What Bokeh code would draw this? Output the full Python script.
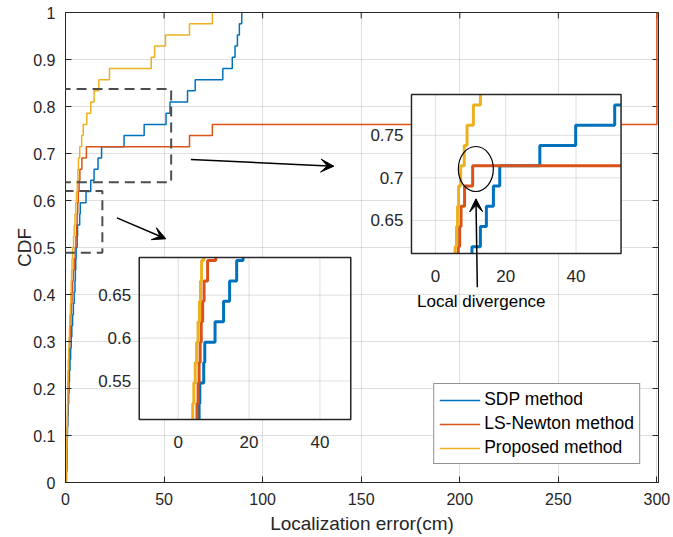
import numpy as np
from bokeh.plotting import figure
from bokeh.models import (Range1d, FixedTicker, BoxAnnotation, Arrow,
                          VeeHead, NumeralTickFormatter)
from bokeh.embed import file_html
from bokeh.resources import INLINE
from bokeh.core.properties import value

# ---------------- data (sorted localization errors, cm; 42 trials each) ----------------
sdp_err = [0.5, 0.7, 0.8, 0.9, 1.0, 1.2, 1.4, 1.6, 1.8, 2.0, 2.3, 2.6, 2.9, 3.2, 3.6,
           4.0, 4.4, 4.8, 5.0, 5.2, 5.4, 5.9, 6.1, 7.2, 7.5, 10.4, 12.8, 14.5, 16.5,
           18.3, 29.7, 39.9, 51.0, 53.0, 61.9, 65.8, 79.8, 84.6, 86.0, 87.2, 88.2, 89.4]
lsn_err = [0.4, 0.6, 0.7, 0.8, 0.9, 1.0, 1.1, 1.2, 1.3, 1.5, 1.7, 1.9, 2.1, 2.4, 2.7,
           3.0, 3.3, 3.6, 4.0, 4.4, 4.9, 5.3, 5.6, 5.9, 6.2, 6.5, 6.9, 7.3, 8.3, 10.6,
           62.9, 74.5, 300, 300, 300, 300, 300, 300, 300, 300, 300, 300]
prop_err = [0.3, 0.5, 0.6, 0.7, 0.8, 0.9, 1.0, 1.1, 1.2, 1.3, 1.4, 1.6, 1.8, 2.0, 2.2,
            2.5, 2.7, 2.9, 3.1, 3.3, 3.6, 4.1, 4.4, 4.8, 5.2, 5.6, 6.0, 6.3, 6.6, 7.2,
            8.2, 9.0, 10.8, 12.8, 14.5, 16.9, 22.3, 43.5, 45.2, 50.7, 62.9, 74.5]
series_names = ["SDP method", "LS-Newton method", "Proposed method"]

x_ticks = [0, 50, 100, 150, 200, 250, 300]
y_ticks = [0, 0.1, 0.2, 0.3, 0.4, 0.5, 0.6, 0.7, 0.8, 0.9, 1]
y_tick_labels = ["0", "0.1", "0.2", "0.3", "0.4", "0.5", "0.6", "0.7", "0.8", "0.9", "1"]

inset1_xticks = [0, 20, 40]
inset1_xlabels = ["0", "20", "40"]
inset1_yticks = [0.65, 0.7, 0.75]
inset1_ylabels = ["0.65", "0.7", "0.75"]
inset2_xticks = [0, 20, 40]
inset2_xlabels = ["0", "20", "40"]
inset2_yticks = [0.55, 0.6, 0.65]
inset2_ylabels = ["0.55", "0.6", "0.65"]

# ---------------- layout constants ----------------
COLORS = ["#0072BD", "#D95319", "#EDB120"]
FONT = "Liberation Sans"
AX = "#262626"
W, H = 673, 537
BL, BR, BT, BB = 65, 15, 12, 55
FW, FH = W - BL - BR, H - BT - BB
XMAX = 300.8

inset1_box = (175.5, 281.8, 0.4872, 0.8255)   # main-data coords of inset frame
inset1_rng = (-6.8, 52.8, 0.611, 0.798)
inset2_box = (37.4, 144.7, 0.134, 0.4787)
inset2_rng = (-11.0, 48.7, 0.505, 0.694)


def stairs(err):
    e = np.sort(np.asarray(err, dtype=float))
    n = len(e)
    lv = np.arange(n + 1) / n
    xs = np.repeat(e, 2)
    ys = np.empty(2 * n)
    ys[0::2] = lv[:-1]
    ys[1::2] = lv[1:]
    return xs, ys


def clip_poly(xs, ys, x0, x1, y0, y1):
    ox, oy = [], []
    for i in range(len(xs) - 1):
        ax, ay, bx, by = xs[i], ys[i], xs[i + 1], ys[i + 1]
        dx, dy = bx - ax, by - ay
        t0, t1, ok = 0.0, 1.0, True
        for pp, q in ((-dx, ax - x0), (dx, x1 - ax), (-dy, ay - y0), (dy, y1 - ay)):
            if pp == 0:
                if q < 0:
                    ok = False
                    break
            else:
                t = q / pp
                if pp < 0:
                    if t > t1:
                        ok = False
                        break
                    t0 = max(t0, t)
                else:
                    if t < t0:
                        ok = False
                        break
                    t1 = min(t1, t)
        if not ok:
            continue
        sx, sy = ax + t0 * dx, ay + t0 * dy
        ex, ey = ax + t1 * dx, ay + t1 * dy
        if not ox or (ox[-1], oy[-1]) != (sx, sy):
            ox.append(sx)
            oy.append(sy)
        ox.append(ex)
        oy.append(ey)
    return ox, oy


p = figure(width=W, height=H, x_range=Range1d(0, XMAX), y_range=Range1d(0, 1),
           output_backend="svg", toolbar_location=None,
           min_border_left=BL, min_border_right=BR, min_border_top=BT, min_border_bottom=BB,
           background_fill_color="white", border_fill_color="white")
p.outline_line_color = AX
p.outline_line_width = 1

p.xaxis.ticker = FixedTicker(ticks=x_ticks)
p.yaxis.ticker = FixedTicker(ticks=y_ticks)
p.yaxis.formatter = NumeralTickFormatter(format="0.[0]")
p.yaxis.major_label_overrides = dict(zip(y_ticks, y_tick_labels))
p.xgrid.ticker = FixedTicker(ticks=x_ticks)
p.ygrid.ticker = FixedTicker(ticks=y_ticks)
p.grid.grid_line_color = AX
p.grid.grid_line_alpha = 0.15
p.xaxis.axis_label = "Localization error(cm)"
p.yaxis.axis_label = "CDF"
for ax in (p.xaxis[0], p.yaxis[0]):
    ax.axis_line_color = AX
    ax.major_tick_line_color = AX
    ax.major_tick_in = 6
    ax.major_tick_out = 0
    ax.minor_tick_line_color = None
    ax.major_label_text_font = FONT
    ax.major_label_text_font_size = "16px"
    ax.major_label_text_color = AX
    ax.axis_label_text_font = FONT
    ax.axis_label_text_font_size = "19px"
    ax.axis_label_text_font_style = "normal"
    ax.axis_label_text_color = AX
p.xaxis.major_label_standoff = 10
p.xaxis.axis_label_standoff = 5
p.yaxis.major_label_standoff = 10
p.yaxis.axis_label_standoff = -5

# inward tick marks on the right and top edges of the box (half is clipped by the frame)
p.dash(x=[XMAX] * len(y_ticks), y=y_ticks, size=12, line_color=AX, line_width=1)
p.dash(x=x_ticks, y=[1] * len(x_ticks), size=12, angle=np.pi / 2, line_color=AX,
       line_width=1)

# main CDF curves
for err, col, name in zip((sdp_err, lsn_err, prop_err), COLORS, series_names):
    xs, ys = stairs(err)
    p.line(xs, ys, line_color=col, line_width=1.5, legend_label=name)


def add_inset(box, rng, xt, xl, yt, yl, tag):
    bx0, bx1, by0, by1 = box
    ix0, ix1, iy0, iy1 = rng
    sx = (ix1 - ix0) / (bx1 - bx0)
    sy = (iy1 - iy0) / (by1 - by0)
    xn, yn = tag + "x", tag + "y"
    p.extra_x_ranges[xn] = Range1d(ix0 - bx0 * sx, ix0 + (XMAX - bx0) * sx)
    p.extra_y_ranges[yn] = Range1d(iy0 - by0 * sy, iy0 + (1 - by0) * sy)
    ux = sx * XMAX / FW   # inset x-units per pixel
    uy = sy * 1.0 / FH
    kw = dict(x_range_name=xn, y_range_name=yn)
    p.quad(left=[ix0], right=[ix1], bottom=[iy0], top=[iy1], fill_color="white",
           line_color=None, **kw)
    p.segment(x0=xt, x1=xt, y0=[iy0] * len(xt), y1=[iy1] * len(xt),
              line_color=AX, line_alpha=0.15, line_width=1, **kw)
    p.segment(x0=[ix0] * len(yt), x1=[ix1] * len(yt), y0=yt, y1=yt,
              line_color=AX, line_alpha=0.15, line_width=1, **kw)
    for err, col in zip((sdp_err, lsn_err, prop_err), COLORS):
        xs, ys = stairs(err)
        cx, cy = clip_poly(xs, ys, ix0, ix1, iy0, iy1)
        if cx:
            p.line(cx, cy, line_color=col, line_width=3, **kw)
    p.quad(left=[ix0], right=[ix1], bottom=[iy0], top=[iy1], fill_color=None,
           line_color=AX, line_width=1.5, **kw)
    p.text(x=xt, y=[iy0 - 22 * uy] * len(xt), text=xl, text_align="center",
           text_baseline="middle", text_font=value(FONT), text_font_size="17px",
           text_color=AX, **kw)
    p.text(x=[ix0 - 8 * ux] * len(yt), y=yt, text=yl, text_align="right",
           text_baseline="middle", text_font=value(FONT), text_font_size="17px",
           text_color=AX, **kw)


add_inset(inset1_box, inset1_rng, inset1_xticks, inset1_xlabels, inset1_yticks,
          inset1_ylabels, "i1")
add_inset(inset2_box, inset2_rng, inset2_xticks, inset2_xlabels, inset2_yticks,
          inset2_ylabels, "i2")

# ellipse marking the divergence (inset 1 coordinates)
p.ellipse(x=[11.5], y=[0.7104], width=35, height=45, width_units="screen",
          height_units="screen", fill_color=None, line_color="black", line_width=1.2,
          x_range_name="i1x", y_range_name="i1y")

p.text(x=[210.9], y=[0.385], text=["Local divergence"], text_align="center",
       text_baseline="middle", text_font=value(FONT), text_font_size="17px",
       text_color="black")

# dashed zoom boxes
for l, r, b, t in ((-2.5, 53.6, 0.639, 0.837), (-1.0, 18.7, 0.489, 0.620)):
    p.add_layout(BoxAnnotation(left=l, right=r, bottom=b, top=t, fill_color=None,
                               fill_alpha=0, line_color="#4d4d4d", line_alpha=1,
                               line_width=2, line_dash="10 6"))

# arrows
for xs0, ys0, xe, ye in ((63.6, 0.687, 136.1, 0.673), (26.1, 0.563, 50.9, 0.5185),
                         (208.9, 0.4156, 208.2, 0.6036)):
    p.add_layout(Arrow(end=VeeHead(size=13, fill_color="black", line_color="black"),
                       x_start=xs0, y_start=ys0, x_end=xe, y_end=ye,
                       line_color="black", line_width=1.5))

lg = p.legend[0]
lg.location = "bottom_right"
lg.margin = 18
lg.border_line_color = AX
lg.border_line_width = 1
lg.background_fill_color = "white"
lg.background_fill_alpha = 1
lg.label_text_font = FONT
lg.label_text_font_size = "17.5px"
lg.label_text_color = "black"
lg.glyph_width = 41
lg.glyph_height = 20
lg.label_height = 20
lg.label_standoff = 4
lg.padding = 5
lg.spacing = 3

open("out.html", "w").write(file_html(p, INLINE))
